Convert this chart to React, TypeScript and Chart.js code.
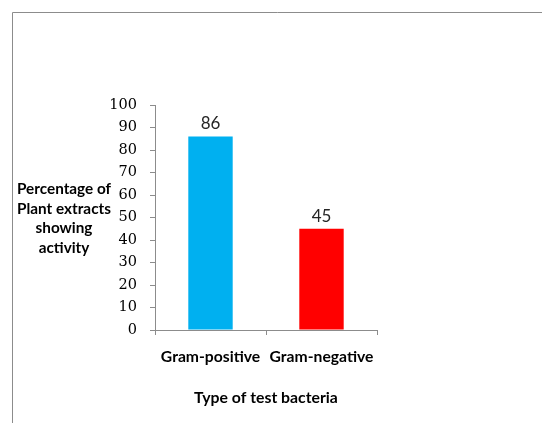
import React, { useEffect, useRef } from "react";
import { Chart, registerables } from "chart.js";

Chart.register(...registerables);

const categories = ["Gram-positive", "Gram-negative"];
const values = [86, 45];
const barColors = ["#00B0F0", "#FF0000"];
const yTitleLines = ["Percentage of", "Plant extracts", "showing", "activity"];
const xTitle = "Type of test bacteria";

const framePlugin = {
  id: "frame",
  beforeDraw(chart: any) {
    const ctx = chart.ctx;
    ctx.save();
    ctx.strokeStyle = "#8c8c8c";
    ctx.lineWidth = 1;
    ctx.beginPath();
    ctx.moveTo(12.5, chart.height);
    ctx.lineTo(12.5, 12.5);
    ctx.lineTo(chart.width, 12.5);
    ctx.stroke();
    ctx.restore();
  },
};

const labelsPlugin = {
  id: "barLabels",
  afterDatasetsDraw(chart: any) {
    const ctx = chart.ctx;
    ctx.save();
    ctx.font = "17px Lato";
    ctx.fillStyle = "#262626";
    ctx.textAlign = "center";
    ctx.textBaseline = "bottom";
    const meta = chart.getDatasetMeta(0);
    meta.data.forEach((bar: any, i: number) => {
      ctx.fillText(String(values[i]), bar.x, bar.y - 4);
    });
    ctx.restore();
  },
};

const yTitlePlugin = {
  id: "yTitle",
  afterDraw(chart: any) {
    const ctx = chart.ctx;
    const area = chart.chartArea;
    const lh = 19.5;
    const mid = (area.top + area.bottom) / 2 + 1;
    ctx.save();
    ctx.font = "bold 15.3px Lato";
    ctx.fillStyle = "#000";
    ctx.textAlign = "center";
    ctx.textBaseline = "middle";
    yTitleLines.forEach((line, i) => {
      const y = mid + (i - (yTitleLines.length - 1) / 2) * lh;
      ctx.fillText(line, 64, y);
    });
    ctx.restore();
  },
};

export default function App() {
  const ref = useRef<HTMLCanvasElement>(null);
  useEffect(() => {
    const chart = new Chart(ref.current!, {
      type: "bar",
      data: {
        labels: categories,
        datasets: [
          {
            data: values,
            backgroundColor: barColors,
            borderWidth: 0,
            categoryPercentage: 0.4,
            barPercentage: 1,
          },
        ],
      },
      options: {
        animation: false,
        responsive: false,
        layout: { padding: { left: 0, top: 105, right: 165, bottom: 0 } },
        plugins: {
          legend: { display: false },
          tooltip: { enabled: false },
        },
        scales: {
          x: {
            afterFit(scale: any) {
              scale.height = 93;
            },
            grid: {
              drawOnChartArea: false,
              drawTicks: true,
              tickLength: 5,
              color: "#8c8c8c",
            },
            border: { color: "#8c8c8c" },
            ticks: {
              padding: 13,
              color: "#000",
              font: { family: "Lato", size: 15.7, weight: "bold" },
            },
            title: {
              display: true,
              text: xTitle,
              color: "#000",
              font: { family: "Lato", size: 15.8, weight: "bold" },
              padding: { top: 0, bottom: 16 },
            },
          },
          y: {
            min: 0,
            max: 100,
            afterFit(scale: any) {
              scale.width = 155;
            },
            grid: {
              drawOnChartArea: false,
              drawTicks: true,
              tickLength: 5,
              color: "#8c8c8c",
            },
            border: { color: "#8c8c8c" },
            ticks: {
              stepSize: 10,
              padding: 13,
              color: "#000",
              font: { family: "DejaVu Serif", size: 14.5 },
            },
          },
        },
      },
      plugins: [framePlugin, labelsPlugin, yTitlePlugin],
    });
    return () => chart.destroy();
  }, []);
  return (
    <div style={{ position: "absolute", left: 0, top: 0, width: 542, height: 423, background: "#fff" }}>
      <canvas ref={ref} width={542} height={423} />
    </div>
  );
}
